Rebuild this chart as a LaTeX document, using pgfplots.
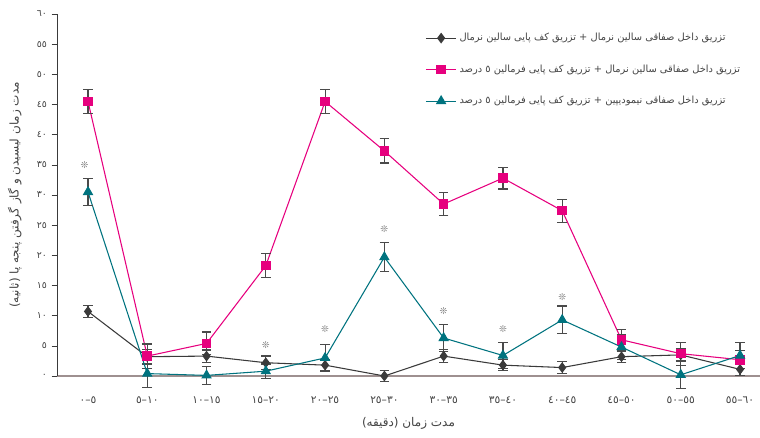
\documentclass[border=0pt]{standalone}
\usepackage{pgfplots}
\pgfplotsset{compat=1.18}
\usepackage{fontspec}
\setmainfont{DejaVu Sans}
\newfontfamily\arabicfont[Script=Arabic]{DejaVu Sans}
\newfontfamily\symfont{DejaVu Sans}
\TeXXeTstate=1

\definecolor{sgray}{HTML}{3A3A3A}
\definecolor{smag}{HTML}{E6007E}
\definecolor{steal}{HTML}{00737F}
\definecolor{axgray}{HTML}{9E9090}
\definecolor{txtgray}{HTML}{444444}
\definecolor{errgray}{HTML}{4A4A4A}

% interval label, set piece by piece so it reads left to right
\newcommand{\rng}[2]{\mbox{#1}\mbox{–}\mbox{#2}}

% x = time interval index, y = mean, e = error
\pgfplotstableread{
x y e
0 10.7 1.0
1 3.2 1.2
2 3.3 1.0
3 2.2 1.1
4 1.8 0.9
5 0.0 0.9
6 3.3 1.1
7 1.8 0.9
8 1.4 1.0
9 3.2 0.9
10 3.5 1.0
11 1.1 1.0
}\salinesaline
\pgfplotstableread{
x y e
0 45.5 2.0
1 3.3 2.0
2 5.4 1.9
3 18.3 2.0
4 45.5 2.0
5 37.3 2.0
6 28.5 1.9
7 32.8 1.8
8 27.4 1.9
9 6.0 1.7
10 3.7 1.9
11 2.7 1.5
}\salineformalin
\pgfplotstableread{
x y e
0 30.5 2.3
1 0.4 2.3
2 0.1 1.5
3 0.8 1.2
4 3.0 2.2
5 19.7 2.4
6 6.3 2.3
7 3.4 2.2
8 9.3 2.3
9 4.8 2.0
10 0.2 2.3
11 3.4 2.2
}\nimodipineformalin

\begin{document}
\begin{tikzpicture}
\path[use as bounding box] (0,0) rectangle (570pt,327.75pt);
\begin{axis}[
  at={(42.75pt,45.75pt)}, anchor=south west,
  scale only axis, width=527.25pt, height=271.5pt,
  xmin=-0.523, xmax=11.337, ymin=0, ymax=60,
  clip=false,
  axis x line=bottom, axis y line=left,
  axis line style={-},
  x axis line style={axgray, line width=0.8pt},
  y axis line style={sgray, line width=0.6pt},
  xtick={0,...,11},
  xticklabels={\rng{٠}{٥},\rng{٥}{١٠},\rng{١٠}{١٥},\rng{١٥}{٢٠},\rng{٢٠}{٢٥},\rng{٢٥}{٣٠},
    \rng{٣٠}{٣٥},\rng{٣٥}{٤٠},\rng{٤٠}{٤٥},\rng{٤٥}{٥٠},\rng{٥٠}{٥٥},\rng{٥٥}{٦٠}},
  xtick style={draw=none},
  ytick={0,5,...,60},
  yticklabels={٠,٥,١٠,١٥,٢٠,٢٥,٣٠,٣٥,٤٠,٤٥,٥٠,٥٥,٦٠},
  tick align=outside, major tick length=4pt,
  ytick style={sgray, line width=0.5pt},
  tick label style={font=\arabicfont\scriptsize, text=txtgray},
  xticklabel style={font=\arabicfont\footnotesize, yshift=-8pt},
  every axis x label/.style={at={(rel axis cs:0.5,-0.13)}, anchor=center},
  every axis y label/.style={at={(rel axis cs:-0.06,0.5)}, rotate=90, anchor=center},
  label style={font=\arabicfont\small, text=txtgray},
  xlabel={\beginR مدت زمان (دقیقه)\endR},
  ylabel={\beginR مدت زمان لیسیدن و گاز گرفتن پنجه پا (ثانیه)\endR},
  legend style={draw=none, fill=none, at={(0.518,0.962)}, anchor=north west,
    font=\arabicfont\fontsize{7.4}{9}\selectfont, text=txtgray, row sep=12.5pt},
  legend cell align=left,
  legend image code/.code={\draw[mark repeat=2,mark phase=2] plot coordinates {(0cm,0cm)(0.4cm,0cm)(0.8cm,0cm)};},
  error bars/y dir=both, error bars/y explicit,
  error bars/error bar style={errgray, line width=0.9pt},
  error bars/error mark options={errgray, rotate=90, mark size=3.6pt, line width=0.9pt},
]
\addplot[sgray, line width=0.8pt, mark=diamond*, mark size=3.4pt, mark options={fill=sgray}]
  table[x=x, y=y, y error=e] {\salinesaline};
\addlegendentry{\beginR تزریق داخل صفاقی سالین نرمال + تزریق کف پایی سالین نرمال\endR}
\addplot[smag, line width=0.8pt, mark=square*, mark size=3.2pt, mark options={fill=smag}]
  table[x=x, y=y, y error=e] {\salineformalin};
\addlegendentry{\beginR تزریق داخل صفاقی سالین نرمال + تزریق کف پایی فرمالین ٥ درصد\endR}
\addplot[steal, line width=0.8pt, mark=triangle*, mark size=3.8pt, mark options={fill=steal}]
  table[x=x, y=y, y error=e] {\nimodipineformalin};
\addlegendentry{\beginR تزریق داخل صفاقی نیمودیپین + تزریق کف پایی فرمالین ٥ درصد\endR}
% significance markers
\addplot[forget plot, only marks, mark=text, text mark={\textcolor{gray}{\scriptsize\symfont ❊}},
  error bars/y dir=none]
  coordinates {(-0.06,35.0) (3,5.1) (4,7.7) (5,24.4) (6,10.7) (7,7.7) (8,13.0)};
\end{axis}
\end{tikzpicture}
\end{document}
